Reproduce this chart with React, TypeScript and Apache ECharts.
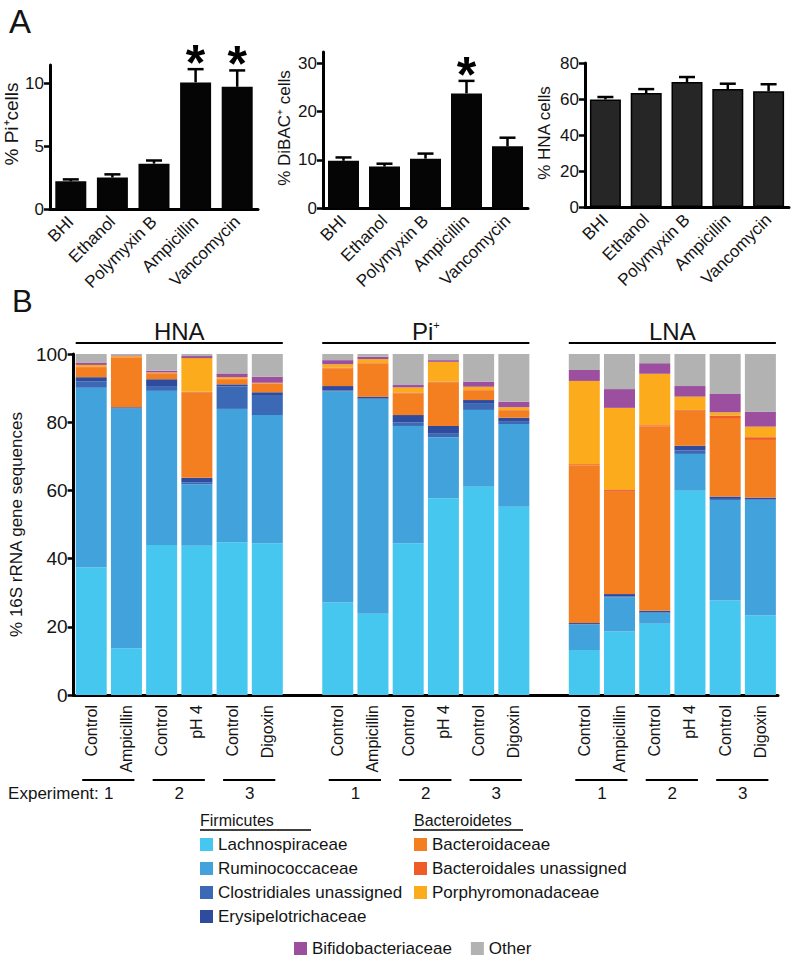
import React, { useEffect, useRef } from "react";
import * as echarts from "echarts";

// ---------- Panel A data ----------
const drugs = ["BHI", "Ethanol", "Polymyxin B", "Ampicillin", "Vancomycin"];
const piMean = [2.2, 2.5, 3.6, 10.05, 9.7];
const piErr = [2.35, 2.75, 3.85, 11.1, 11.0];
const piStar = [0, 0, 0, 1, 1];
const dibacMean = [9.8, 8.6, 10.25, 23.8, 12.8];
const dibacErr = [10.5, 9.2, 11.3, 26.4, 14.6];
const dibacStar = [0, 0, 0, 1, 0];
const hnaMean = [59.7, 63.3, 69.4, 65.5, 64.3];
const hnaErr = [61.1, 65.5, 72.2, 68.5, 68.2];
const hnaStar = [0, 0, 0, 0, 0];

// ---------- Panel B data ----------
const fractions = ["HNA", "Pi+", "LNA"];
const samples = ["Control", "Ampicillin", "Control", "pH 4", "Control", "Digoxin"];
const experiments = ["1", "2", "3"];
// each array: HNA x6, Pi+ x6, LNA x6
const lachnospiraceae = [37.4, 13.7, 44.0, 43.8, 44.8, 44.5, 27.1, 23.8, 44.5, 57.7, 61.1, 55.2, 13.2, 18.6, 20.9, 59.9, 27.7, 23.3];
const ruminococcaceae = [52.7, 70.3, 45.2, 18.0, 39.1, 37.6, 61.9, 63.0, 34.4, 17.9, 22.5, 24.3, 7.5, 10.0, 3.2, 10.8, 29.5, 33.9];
const clostridialesUnassigned = [1.8, 0.2, 1.4, 0.5, 6.6, 5.9, 0.3, 0.2, 1.0, 1.2, 1.8, 0.6, 0.1, 0.3, 0.2, 1.0, 0.3, 0.2];
const erysipelotrichaceae = [1.3, 0.2, 2.0, 1.4, 0.6, 0.8, 1.3, 0.5, 2.2, 2.1, 1.1, 1.2, 0.3, 0.7, 0.4, 1.4, 0.7, 0.5];
const bacteroidaceae = [2.8, 14.6, 1.7, 25.0, 1.5, 2.5, 5.2, 9.6, 6.4, 12.8, 2.7, 2.1, 46.3, 30.0, 54.0, 10.3, 23.0, 16.9];
const bacteroidalesUnassigned = [0.2, 0.1, 0.1, 0.2, 0.1, 0.1, 0.2, 0.2, 0.2, 0.2, 0.2, 0.2, 0.3, 0.5, 0.4, 0.2, 0.7, 0.8];
const porphyromonadaceae = [0.6, 0.3, 0.2, 9.9, 0.5, 0.2, 1.0, 1.2, 1.5, 5.8, 1.0, 0.8, 24.4, 24.1, 15.1, 3.9, 1.0, 3.1];
const bifidobacteriaceae = [0.7, 0.2, 0.5, 0.6, 1.1, 1.7, 1.2, 0.7, 0.7, 0.5, 1.5, 1.6, 3.2, 5.5, 3.1, 3.1, 5.4, 4.4];
const other = [2.5, 0.4, 4.9, 0.6, 5.7, 6.7, 1.8, 0.8, 9.1, 1.8, 8.1, 14.0, 4.7, 10.3, 2.7, 9.4, 11.7, 16.9];

const families = [
  { name: "Lachnospiraceae", data: lachnospiraceae, color: "#45c7f0" },
  { name: "Ruminococcaceae", data: ruminococcaceae, color: "#42a3dc" },
  { name: "Clostridiales unassigned", data: clostridialesUnassigned, color: "#3b69b5" },
  { name: "Erysipelotrichaceae", data: erysipelotrichaceae, color: "#2f4b9e" },
  { name: "Bacteroidaceae", data: bacteroidaceae, color: "#f47f21" },
  { name: "Bacteroidales unassigned", data: bacteroidalesUnassigned, color: "#ef5b29" },
  { name: "Porphyromonadaceae", data: porphyromonadaceae, color: "#fbab1b" },
  { name: "Bifidobacteriaceae", data: bifidobacteriaceae, color: "#9c4f9e" },
  { name: "Other", data: other, color: "#b2b2b2" },
];

const FONT = "'Liberation Sans', Arial, Helvetica, sans-serif";
const NARROW = "'Liberation Sans Narrow', 'Liberation Sans', Arial, sans-serif";
const INK = "#141414";

// slot layout: 6 samples, a blank slot, 6 samples, a blank slot, 6 samples
const slotIds: string[] = [];
fractions.forEach((f, fi) => {
  samples.forEach((s, si) => slotIds.push(`${fi}-${si}`));
  if (fi < fractions.length - 1) slotIds.push(`gap${fi}`);
});
const withGaps = (arr: number[]) => {
  const out: any[] = [];
  fractions.forEach((f, fi) => {
    for (let si = 0; si < samples.length; si++) out.push(arr[fi * samples.length + si]);
    if (fi < fractions.length - 1) out.push("-");
  });
  return out;
};
const slotOf = (fi: number, si: number) => fi * (samples.length + 1) + si;

function errorRender(params: any, api: any) {
  const x = api.value(0);
  const p0 = api.coord([x, api.value(1)]);
  const p1 = api.coord([x, api.value(2)]);
  const children: any[] = [
    { type: "line", shape: { x1: p0[0], y1: p0[1], x2: p1[0], y2: p1[1] }, style: { stroke: "#000", lineWidth: 2.5 } },
    { type: "line", shape: { x1: p0[0] - 8, y1: p1[1], x2: p0[0] + 8, y2: p1[1] }, style: { stroke: "#000", lineWidth: 2.5 } },
  ];
  if (api.value(3)) {
    children.push({
      type: "text",
      x: p0[0],
      y: p1[1] - 6,
      style: { text: "*", fontSize: 50, fontWeight: "bold", fontFamily: FONT, fill: "#000", textAlign: "center", textVerticalAlign: "middle" },
    });
  }
  return { type: "group", children };
}

const topPanels = [
  { grid: { left: 50, top: 65, width: 208, height: 144 }, max: 11.43, ticks: [0, 5, 10], name: "% Pi\u207Acells", nameSize: 19, namePad: [0, 0, 0, 26], gap: 24, mean: piMean, err: piErr, star: piStar, color: "#050505" },
  { grid: { left: 323, top: 52, width: 205, height: 156 }, max: 32.4, ticks: [0, 10, 20, 30], name: "% DiBAC\u207A cells", nameSize: 17, namePad: [0, 0, 0, 4], gap: 30, mean: dibacMean, err: dibacErr, star: dibacStar, color: "#050505" },
  { grid: { left: 585, top: 63, width: 204, height: 144 }, max: 80, ticks: [0, 20, 40, 60, 80], name: "% HNA cells", nameSize: 17, namePad: [0, 0, 0, 4], gap: 32, mean: hnaMean, err: hnaErr, star: hnaStar, color: "#262626" },
];

export default function App() {
  const ref = useRef<HTMLDivElement>(null);
  useEffect(() => {
    document.body.style.margin = "0";
    const chart = echarts.init(ref.current!, null, { renderer: "svg" });

    const grids: any[] = topPanels.map((p) => p.grid);
    grids.push({ left: 73, top: 354, width: 705, height: 341 });

    const xAxes: any[] = topPanels.map((p, i) => ({
      type: "category",
      gridIndex: i,
      data: drugs,
      axisLine: { lineStyle: { color: "#000", width: 3 } },
      axisTick: { alignWithLabel: true, length: 6, lineStyle: { color: "#000", width: 3 } },
      axisLabel: { rotate: 45, interval: 0, margin: 10, fontSize: 17, color: INK, fontFamily: FONT },
    }));
    xAxes.push({
      type: "category",
      gridIndex: 3,
      data: slotIds,
      axisLine: { lineStyle: { color: "#000", width: 3 } },
      axisTick: { interval: 0, length: 5, lineStyle: { color: "#000", width: 2.5 } },
      axisLabel: {
        rotate: 90,
        interval: 0,
        margin: 10,
        fontSize: 16,
        color: INK,
        fontFamily: FONT,
        formatter: (v: string) => (v.startsWith("gap") ? "" : samples[Number(v.split("-")[1])]),
      },
    });

    const yAxes: any[] = topPanels.map((p, i) => ({
      type: "value",
      gridIndex: i,
      min: 0,
      max: p.max,
      splitLine: { show: false },
      axisLine: { show: true, lineStyle: { color: "#000", width: 3 } },
      axisTick: { show: true, length: 6, customValues: p.ticks, lineStyle: { color: "#000", width: 2.5 } },
      axisLabel: { customValues: p.ticks, fontSize: 17, color: INK, fontFamily: FONT, margin: 6 },
      name: p.name,
      nameLocation: "middle",
      nameGap: p.gap,
      nameTextStyle: { fontSize: p.nameSize, color: INK, fontFamily: FONT, padding: p.namePad },
    }));
    yAxes.push({
      type: "value",
      gridIndex: 3,
      min: 0,
      max: 100,
      interval: 20,
      splitLine: { show: false },
      axisLine: { show: true, lineStyle: { color: "#000", width: 3 } },
      axisTick: { show: true, length: 6, lineStyle: { color: "#000", width: 2.5 } },
      axisLabel: { fontSize: 19, color: INK, fontFamily: FONT, margin: 6 },
      name: "% 16S rRNA gene sequences",
      nameLocation: "middle",
      nameGap: 46,
      nameTextStyle: { fontSize: 17, color: INK, fontFamily: FONT },
    });

    const series: any[] = [];
    topPanels.forEach((p, i) => {
      series.push({
        type: "bar",
        name: `panelA-${i}`,
        xAxisIndex: i,
        yAxisIndex: i,
        data: p.mean,
        barWidth: 31,
        itemStyle: { color: p.color, borderColor: "#000", borderWidth: i === 2 ? 1.5 : 0 },
        z: 2,
      });
      series.push({
        type: "custom",
        name: `err-${i}`,
        xAxisIndex: i,
        yAxisIndex: i,
        renderItem: errorRender,
        data: p.mean.map((m, k) => [k, m, p.err[k], p.star[k]]),
        z: 3,
      });
    });
    families.forEach((f) => {
      series.push({
        type: "bar",
        name: f.name,
        stack: "composition",
        xAxisIndex: 3,
        yAxisIndex: 3,
        barWidth: 31,
        data: withGaps(f.data),
        itemStyle: { color: f.color },
        emphasis: { disabled: true },
      });
    });

    const legendBase = {
      icon: "rect",
      itemWidth: 13,
      itemHeight: 13,
      selectedMode: false,
      padding: 0,
      textStyle: { fontSize: 17, color: INK, fontFamily: FONT },
    };

    chart.setOption({
      animation: false,
      backgroundColor: "#fff",
      grid: grids,
      xAxis: xAxes,
      yAxis: yAxes,
      series,
      legend: [
        { ...legendBase, orient: "vertical", left: 200, top: 836, itemGap: 7, data: families.slice(0, 4).map((f) => f.name) },
        { ...legendBase, orient: "vertical", left: 414, top: 836, itemGap: 7, data: families.slice(4, 7).map((f) => f.name) },
        { ...legendBase, orient: "horizontal", left: 294, top: 940, itemGap: 19, data: families.slice(7).map((f) => f.name) },
      ],
    });

    // annotations placed through the bottom axis' own scale
    const cx = (slot: number) => chart.convertToPixel({ xAxisIndex: 3 }, slotIds[slot]) as number;
    const half = 15.5;
    const g: any[] = [
      { type: "text", left: 9, top: 5, style: { text: "A", fontSize: 33, fontFamily: FONT, fill: INK } },
      { type: "text", left: 12, top: 286, style: { text: "B", fontSize: 31, fontFamily: FONT, fill: INK } },
    ];
    fractions.forEach((f, fi) => {
      const x0 = cx(slotOf(fi, 0)) - half;
      const x1 = cx(slotOf(fi, samples.length - 1)) + half;
      g.push({ type: "line", shape: { x1: x0, y1: 343, x2: x1, y2: 343 }, style: { stroke: "#000", lineWidth: 2 } });
      const label = f === "Pi+" ? "Pi{sup|+}" : f;
      g.push({
        type: "text",
        x: (x0 + x1) / 2,
        y: 331,
        style: {
          text: label,
          fontSize: 24,
          fontFamily: FONT,
          fill: INK,
          textAlign: "center",
          textVerticalAlign: "middle",
          rich: { sup: { fontSize: 11, fontFamily: FONT, fill: INK, verticalAlign: "top" } },
        },
      });
      experiments.forEach((e, ei) => {
        const a = cx(slotOf(fi, ei * 2));
        const b = cx(slotOf(fi, ei * 2 + 1));
        g.push({ type: "line", shape: { x1: a - 9, y1: 780, x2: b + 8, y2: 780 }, style: { stroke: "#000", lineWidth: 2 } });
        g.push({ type: "text", x: (a + b) / 2, y: 793, style: { text: e, fontSize: 17, fontFamily: NARROW, fill: INK, textAlign: "center", textVerticalAlign: "middle" } });
        if (fi === 0 && ei === 0) {
          g.push({ type: "text", x: (a + b) / 2 - 10, y: 793, style: { text: "Experiment:", fontSize: 17, fontFamily: NARROW, fill: INK, textAlign: "right", textVerticalAlign: "middle" } });
        }
      });
    });
    // legend group headers
    g.push({ type: "text", x: 200, y: 820, style: { text: "Firmicutes", fontSize: 16, fontFamily: NARROW, fill: INK, textVerticalAlign: "middle" } });
    g.push({ type: "line", shape: { x1: 200, y1: 830, x2: 311, y2: 830 }, style: { stroke: "#000", lineWidth: 1.5 } });
    g.push({ type: "text", x: 414, y: 820, style: { text: "Bacteroidetes", fontSize: 16, fontFamily: NARROW, fill: INK, textVerticalAlign: "middle" } });
    g.push({ type: "line", shape: { x1: 413, y1: 830, x2: 523, y2: 830 }, style: { stroke: "#000", lineWidth: 1.5 } });

    chart.setOption({ graphic: g });
    return () => chart.dispose();
  }, []);
  return <div ref={ref} style={{ width: 800, height: 964 }} />;
}
